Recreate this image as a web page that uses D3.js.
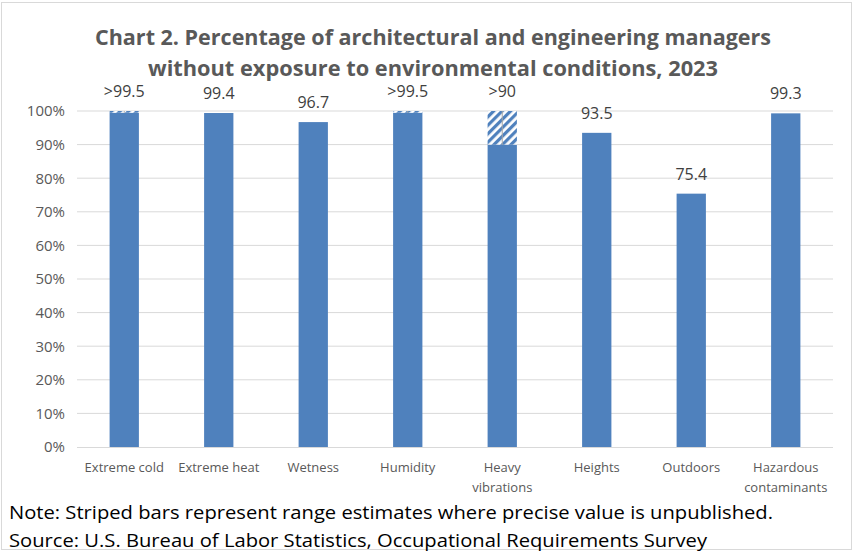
<!DOCTYPE html>
<html>
<head>
<meta charset="utf-8">
<script src="https://cdn.jsdelivr.net/npm/d3@7"></script>
<style>
  body { margin: 0; background: #fff; }
  svg { display: block; font-family: "Open Sans", "Liberation Sans", sans-serif; }
</style>
</head>
<body>
<div id="chart"></div>
<script>
// Chart 2 data
const categories = ["Extreme cold", "Extreme heat", "Wetness", "Humidity", "Heavy vibrations", "Heights", "Outdoors", "Hazardous contaminants"];
const categoryLines = [["Extreme cold"], ["Extreme heat"], ["Wetness"], ["Humidity"], ["Heavy", "vibrations"], ["Heights"], ["Outdoors"], ["Hazardous", "contaminants"]];
const values = [99.5, 99.4, 96.7, 99.5, 90, 93.5, 75.4, 99.3];
const upperBounds = [100, null, null, 100, 100, null, null, null];
const valueLabels = [">99.5", "99.4", "96.7", ">99.5", ">90", "93.5", "75.4", "99.3"];
const yTicks = [0, 10, 20, 30, 40, 50, 60, 70, 80, 90, 100];

const width = 853, height = 552;
const margin = { top: 111, right: 20, bottom: 105, left: 77 };
const barColor = "#4f81bd";

const svg = d3.select("#chart").append("svg")
  .attr("width", width).attr("height", height);

// stripe pattern
const defs = svg.append("defs");
const pat = defs.append("pattern")
  .attr("id", "stripes")
  .attr("patternUnits", "userSpaceOnUse")
  .attr("width", 6).attr("height", 6)
  .attr("patternTransform", "rotate(45)");
pat.append("rect").attr("width", 6).attr("height", 6).attr("fill", "#fff");
pat.append("rect").attr("width", 3.2).attr("height", 6).attr("fill", barColor);

// chart border
svg.append("rect")
  .attr("x", 1.5).attr("y", 2.5).attr("width", width - 3).attr("height", height - 5)
  .attr("fill", "none").attr("stroke", "#d9d9d9");

const x = d3.scaleBand().domain(categories).range([margin.left, width - margin.right]).paddingInner(0.69).paddingOuter(0.345);
const y = d3.scaleLinear().domain([0, 100]).range([447, margin.top]);

// gridlines
svg.append("g").selectAll("line")
  .data(yTicks.filter(d => d > 0))
  .join("line")
  .attr("x1", margin.left).attr("x2", width - margin.right)
  .attr("y1", d => y(d)).attr("y2", d => y(d))
  .attr("stroke", "#d9d9d9").attr("stroke-width", 1);

// y axis
const yAxis = svg.append("g")
  .attr("transform", `translate(${margin.left},0)`)
  .call(d3.axisLeft(y).tickValues(yTicks).tickFormat(d => d + "%").tickSize(0).tickPadding(12));
yAxis.select(".domain").remove();
yAxis.selectAll("text").attr("font-size", 15).attr("fill", "#595959")
  .attr("font-family", "Open Sans, sans-serif");

// bars
const bars = svg.append("g");
bars.selectAll("rect.solid")
  .data(values)
  .join("rect")
  .attr("class", "solid")
  .attr("x", (d, i) => x(categories[i]))
  .attr("width", x.bandwidth())
  .attr("y", d => y(d))
  .attr("height", d => y(0) - y(d))
  .attr("fill", barColor);

const ranged = values.map((v, i) => ({ v, hi: upperBounds[i], i })).filter(d => d.hi != null);
bars.selectAll("rect.range")
  .data(ranged)
  .join("rect")
  .attr("class", "range")
  .attr("x", d => x(categories[d.i]))
  .attr("width", x.bandwidth())
  .attr("y", d => y(d.hi))
  .attr("height", d => y(d.v) - y(d.hi))
  .attr("fill", "url(#stripes)");
bars.selectAll("line.range")
  .data(ranged)
  .join("line")
  .attr("class", "range")
  .attr("x1", d => x(categories[d.i]) + x.bandwidth() / 2)
  .attr("x2", d => x(categories[d.i]) + x.bandwidth() / 2)
  .attr("y1", d => y(d.hi)).attr("y2", d => y(d.v))
  .attr("stroke", "#a6a6a6").attr("stroke-width", 1);

// x axis line
svg.append("line")
  .attr("x1", margin.left).attr("x2", width - margin.right)
  .attr("y1", y(0) + 0.5).attr("y2", y(0) + 0.5)
  .attr("stroke", "#d9d9d9");

// value labels
svg.append("g").selectAll("text")
  .data(valueLabels)
  .join("text")
  .attr("x", (d, i) => x(categories[i]) + x.bandwidth() / 2)
  .attr("y", (d, i) => y(upperBounds[i] != null ? upperBounds[i] : values[i]) - 14)
  .attr("text-anchor", "middle")
  .attr("font-size", 16).attr("fill", "#404040")
  .text(d => d);

// category labels
const catG = svg.append("g");
categoryLines.forEach((lines, i) => {
  const t = catG.append("text")
    .attr("x", x(categories[i]) + x.bandwidth() / 2)
    .attr("y", 472)
    .attr("text-anchor", "middle")
    .attr("font-size", 13).attr("fill", "#595959");
  lines.forEach((l, j) => {
    t.append("tspan").attr("x", x(categories[i]) + x.bandwidth() / 2)
      .attr("dy", j === 0 ? 0 : 20).text(l);
  });
});

// title
const title = svg.append("text")
  .attr("text-anchor", "middle")
  .attr("font-size", 22).attr("font-weight", "bold").attr("fill", "#595959");
title.append("tspan").attr("x", 433).attr("y", 45)
  .attr("textLength", 676).attr("lengthAdjust", "spacingAndGlyphs")
  .text("Chart 2. Percentage of architectural and engineering managers");
title.append("tspan").attr("x", 433).attr("y", 76)
  .attr("textLength", 570).attr("lengthAdjust", "spacingAndGlyphs")
  .text("without exposure to environmental conditions, 2023");

// notes
svg.append("text")
  .attr("x", 9).attr("y", 519)
  .attr("font-size", 19).attr("fill", "#000")
  .attr("textLength", 764).attr("lengthAdjust", "spacingAndGlyphs")
  .text("Note: Striped bars represent range estimates where precise value is unpublished.");
svg.append("text")
  .attr("x", 9).attr("y", 547)
  .attr("font-size", 19).attr("fill", "#000")
  .attr("textLength", 698).attr("lengthAdjust", "spacingAndGlyphs")
  .text("Source: U.S. Bureau of Labor Statistics, Occupational Requirements Survey");
</script>
</body>
</html>
